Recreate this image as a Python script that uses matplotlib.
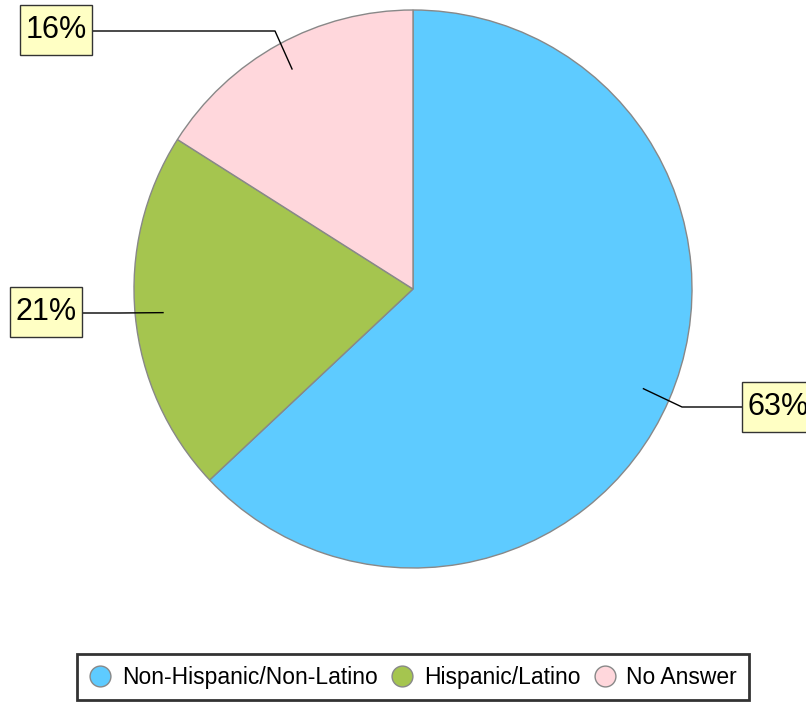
import matplotlib.pyplot as plt
from matplotlib.lines import Line2D
from matplotlib.patches import Rectangle
import numpy as np

# data
categorias = ['Non-Hispanic/Non-Latino', 'Hispanic/Latino', 'No Answer']
valores = [63, 21, 16]
colores = ['#5ECBFF', '#A5C54F', '#FFD7DC']

plt.rcParams['font.family'] = ['Liberation Sans', 'DejaVu Sans']

W, H = 806, 702
fig = plt.figure(figsize=(W / 100, H / 100), dpi=100)
ax = fig.add_axes([0, 0, 1, 1])

cx, cy, R = 413, H - 289, 279
wedges, _ = ax.pie(valores, colors=colores, startangle=90, counterclock=False,
                   center=(cx, cy), radius=R,
                   wedgeprops=dict(edgecolor='#888888', linewidth=1))
ax.set_xlim(0, W)
ax.set_ylim(0, H)
ax.set_aspect('equal')
ax.axis('off')

# posiciones de etiquetas: codo de la linea y caja (x izq, y arriba en px de imagen)
etiquetas = [
    dict(codo=(682, 407), caja=(742, 382)),
    dict(codo=(120, 313), caja=(10, 287)),
    dict(codo=(275, 31), caja=(20, 5)),
]
bw, bh = 72, 50

total = sum(valores)
for w, v, et in zip(wedges, valores, etiquetas):
    ang = np.deg2rad((w.theta1 + w.theta2) / 2)
    px = cx + 0.9 * R * np.cos(ang)
    py = cy + 0.9 * R * np.sin(ang)
    ex, ey = et['codo'][0], H - et['codo'][1]
    bx, by = et['caja'][0], H - et['caja'][1] - bh
    borde = bx + bw if bx < cx else bx
    ax.plot([px, ex, borde], [py, ey, ey], color='black', lw=1)
    ax.add_patch(Rectangle((bx, by), bw, bh, facecolor='#FFFFC4',
                           edgecolor='#333333', linewidth=1, zorder=3,
                           clip_on=False))
    ax.text(bx + bw / 2, by + bh / 2, f'{round(100 * v / total)}%',
            ha='center', va='center', fontsize=22, zorder=4)

handles = [Line2D([], [], marker='o', linestyle='none', markersize=15,
                  markerfacecolor=c, markeredgecolor='#888888')
           for c in colores]
leg = fig.legend(handles, categorias, loc='lower center', ncol=3,
                 bbox_to_anchor=(413 / W, 2 / H), borderaxespad=0,
                 fontsize=16.5, frameon=True, fancybox=False,
                 handletextpad=0.45, columnspacing=0.56,
                 handlelength=1.0, borderpad=0.5)
leg.get_frame().set_edgecolor('black')
leg.get_frame().set_linewidth(2)

fig.savefig('out.png', dpi=100)
